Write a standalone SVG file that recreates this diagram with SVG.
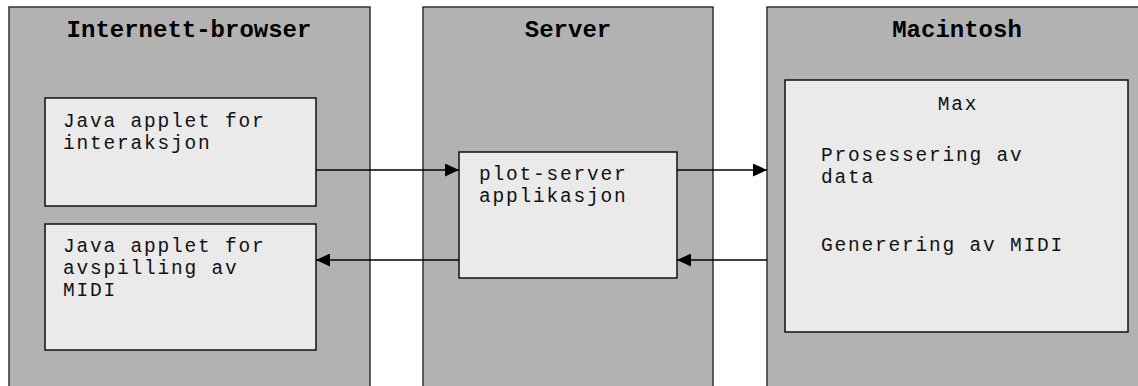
<svg xmlns="http://www.w3.org/2000/svg" width="1138" height="386" viewBox="0 0 1138 386">
<style>
.panel{fill:#b2b2b2;stroke:#333;stroke-width:1.5}
.box{fill:#eaeaea;stroke:#111;stroke-width:1.5}
.h{font-family:"Liberation Mono",monospace;font-weight:bold;font-size:24px;fill:#000;text-anchor:middle}
.t{font-family:"Liberation Mono",monospace;font-size:19.5px;letter-spacing:1.8px;fill:#111}
.c{stroke:#000;stroke-width:1.5;fill:none}
</style>
<defs>
<marker id="a" markerWidth="14" markerHeight="13" refX="14" refY="6.5" orient="auto" markerUnits="userSpaceOnUse">
<path d="M0,0 L14,6.5 L0,13 Z" fill="#000"/>
</marker>
</defs>
<g id="browser">
<rect class="panel" x="9" y="7" width="361" height="380"/>
<text class="h" x="189" y="37">Internett-browser</text>
</g>
<g id="applet1">
<rect class="box" x="45" y="98" width="271" height="108"/>
<text class="t" x="63" y="127">Java applet for</text>
<text class="t" x="63" y="149">interaksjon</text>
</g>
<g id="applet2">
<rect class="box" x="45" y="224" width="271" height="126"/>
<text class="t" x="63" y="252">Java applet for</text>
<text class="t" x="63" y="274">avspilling av</text>
<text class="t" x="63" y="296">MIDI</text>
</g>
<g id="server">
<rect class="panel" x="423" y="7" width="290" height="380"/>
<text class="h" x="568" y="37">Server</text>
</g>
<g id="plotserver">
<rect class="box" x="459" y="152" width="218" height="126"/>
<text class="t" x="479" y="180">plot-server</text>
<text class="t" x="479" y="202">applikasjon</text>
</g>
<g id="mac">
<rect class="panel" x="767" y="7" width="380" height="380"/>
<text class="h" x="957" y="37">Macintosh</text>
</g>
<g id="max">
<rect class="box" x="785" y="80" width="343" height="252"/>
<text class="t" x="958" y="110" text-anchor="middle">Max</text>
<text class="t" x="821" y="161">Prosessering av</text>
<text class="t" x="821" y="183">data</text>
<text class="t" x="821" y="251">Generering av MIDI</text>
</g>
<g id="connectors">
<line class="c" x1="316" y1="170" x2="459" y2="170" marker-end="url(#a)"/>
<line class="c" x1="677" y1="170" x2="767" y2="170" marker-end="url(#a)"/>
<line class="c" x1="767" y1="260" x2="677" y2="260" marker-end="url(#a)"/>
<line class="c" x1="459" y1="260" x2="316" y2="260" marker-end="url(#a)"/>
</g>
</svg>
